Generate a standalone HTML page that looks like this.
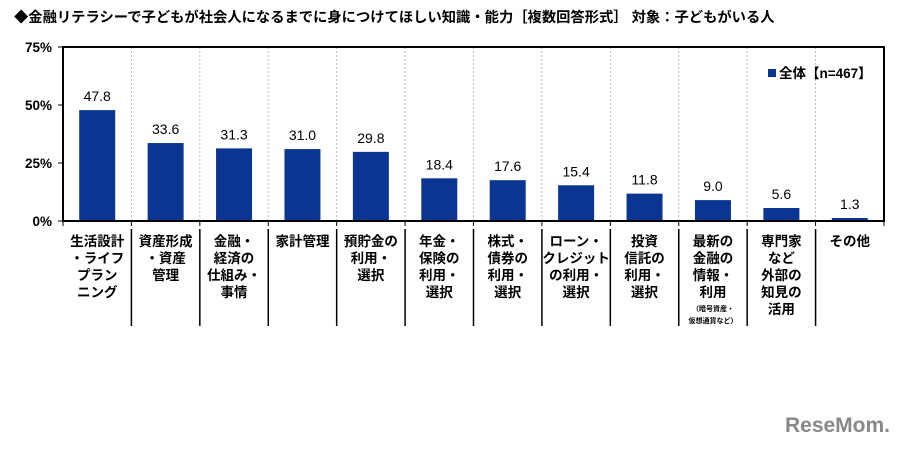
<!DOCTYPE html>
<html><head><meta charset="utf-8"><style>
body{margin:0;background:#fff;width:904px;height:449px;overflow:hidden;font-family:"Liberation Sans","Noto Sans CJK JP",sans-serif;}
svg text{font-family:"Liberation Sans","Noto Sans CJK JP",sans-serif;}
</style></head><body>
<svg id="c" width="904" height="449">
<text x="14" y="22" font-size="14.3" font-weight="bold" fill="#000">◆金融リテラシーで子どもが社会人になるまでに身につけてほしい知識・能力［複数回答形式］ 対象：子どもがいる人</text>
<g id="g"></g>
<text x="890" y="432" text-anchor="end" font-size="21" font-weight="bold" fill="#888">ReseMom.</text>
</svg>
<script>
const categories=[["生活設計","・ライフ","プラン","ニング"],["資産形成","・資産","管理"],["金融・","経済の","仕組み・","事情"],["家計管理"],["預貯金の","利用・","選択"],["年金・","保険の","利用・","選択"],["株式・","債券の","利用・","選択"],["ローン・","クレジット","の利用・","選択"],["投資","信託の","利用・","選択"],["最新の","金融の","情報・","利用"],["専門家","など","外部の","知見の","活用"],["その他"]];
const values=[47.8,33.6,31.3,31.0,29.8,18.4,17.6,15.4,11.8,9.0,5.6,1.3];
const yTicks=[0,25,50,75];
const NS="http://www.w3.org/2000/svg",g=document.getElementById('g');
const L=63,R=884,T=47,B=221,n=values.length,cw=(R-L)/n,bw=36;
const y=v=>B-(v/75)*(B-T);
const x=i=>L+i*cw;
function mk(t,a,txt){const e=document.createElementNS(NS,t);for(const k in a)e.setAttribute(k,a[k]);if(txt!=null)e.textContent=txt;g.appendChild(e);return e;}
for(let i=1;i<n;i++){
 const e=mk('line',{x1:x(i),x2:x(i),y1:T,y2:B,stroke:'#bbb','stroke-dasharray':'2,2'});
 
 
 const d=mk('line',{x1:x(i),x2:x(i),y1:B+8,y2:326,stroke:'#000','stroke-width':1.5});
 
 
}
values.forEach((v,i)=>{
 const cx=x(i)+cw/2;
 const b=mk('rect',{x:cx-bw/2,y:y(v),width:bw,height:B-y(v),fill:'#0a3592'});
 
 
 const t=mk('text',{x:cx,y:y(v)-9,'text-anchor':'middle','font-size':14,fill:'#000'},v.toFixed(1));
 
 
 categories[i].forEach((s,j)=>{
  const c=mk('text',{x:cx,y:246+j*17,'text-anchor':'middle','font-size':13.5,'font-weight':'bold',fill:'#000'},s);
  
  
 });
 if(i===9){
  const a=mk('text',{x:cx,y:311,'text-anchor':'middle','font-size':7,'font-weight':'bold'},'（暗号資産・');
  
  
  const b2=mk('text',{x:cx,y:323,'text-anchor':'middle','font-size':7,'font-weight':'bold'},'仮想通貨など）');
  
  
 }
});
yTicks.forEach(v=>{
 const t=mk('text',{x:52,y:y(v)+5,'text-anchor':'end','font-size':13.5,'font-weight':'bold'},v+'%');
 
 
 const k=mk('line',{x1:L-5,x2:L,y1:y(v),y2:y(v),stroke:'#000'});
 
 
});
for(let i=0;i<=n;i++){const k=mk('line',{x1:x(i),x2:x(i),y1:B,y2:B+5,stroke:'#000'});
 
 }
const f=mk('rect',{x:L,y:T,width:R-L,height:B-T,fill:'none',stroke:'#000','stroke-width':2});


const lg=mk('rect',{x:768,y:69,width:8,height:8,fill:'#0a3592'});


const lt=mk('text',{x:779,y:78,'font-size':13.5,'font-weight':'bold'},'全体【n=467】');


</script>
</body></html>
